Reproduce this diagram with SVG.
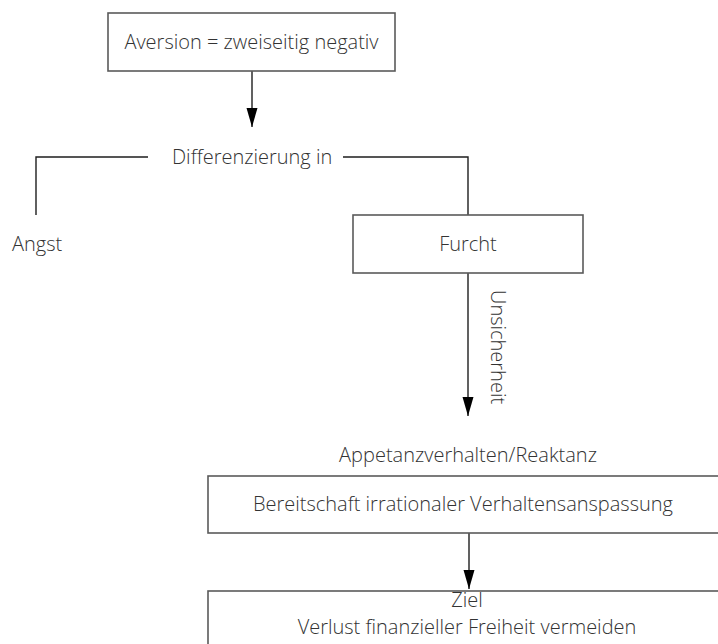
<svg xmlns="http://www.w3.org/2000/svg" width="718" height="644" viewBox="0 0 718 644">
<style>
  .box { fill: #ffffff; stroke: #5a5a5a; stroke-width: 1.6; }
  .t { font-family: "Open Sans", "Noto Sans", "Liberation Sans", sans-serif; font-size: 20px; font-weight: 350; fill: #333333; }
  .c { text-anchor: middle; }
  .ln { fill: none; stroke: #1e1e1e; stroke-width: 1.4; }
</style>
<defs>
  <marker id="arr" markerUnits="userSpaceOnUse" markerWidth="20" markerHeight="12" refX="19" refY="5.5" orient="auto">
    <path d="M0,0 L19,5.5 L0,11 z" fill="#000"/>
  </marker>
</defs>
<rect width="718" height="644" fill="#fff"/>
<g id="connectors">
  <line class="ln" x1="252" y1="71" x2="252" y2="127" marker-end="url(#arr)"/>
  <polyline class="ln" points="36,215 36,157 148,157"/>
  <polyline class="ln" points="343,157 468,157 468,215"/>
  <line class="ln" x1="468" y1="273" x2="468" y2="416" marker-end="url(#arr)"/>
  <line class="ln" x1="469" y1="533" x2="469" y2="589" marker-end="url(#arr)"/>
  <text class="t" transform="translate(491,290) rotate(90)">Unsicherheit</text>
</g>
<g id="aversion">
  <rect class="box" x="108" y="13" width="287" height="58"/>
  <text class="t c" x="251.5" y="49">Aversion = zweiseitig negativ</text>
</g>
<g id="differenzierung">
  <text class="t" x="172" y="164">Differenzierung in</text>
</g>
<g id="angst">
  <text class="t" x="12" y="251">Angst</text>
</g>
<g id="furcht">
  <rect class="box" x="353" y="215" width="230" height="58"/>
  <text class="t c" x="468" y="251">Furcht</text>
</g>
<g id="appetanz">
  <text class="t c" x="468" y="462">Appetanzverhalten/Reaktanz</text>
</g>
<g id="bereitschaft">
  <rect class="box" x="208" y="476" width="520" height="57"/>
  <text class="t c" x="463" y="511">Bereitschaft irrationaler Verhaltensanspassung</text>
</g>
<g id="ziel">
  <rect class="box" x="208" y="591" width="520" height="70"/>
  <text class="t c" x="467" y="607">Ziel</text>
  <text class="t c" x="467" y="634">Verlust finanzieller Freiheit vermeiden</text>
</g>
</svg>
